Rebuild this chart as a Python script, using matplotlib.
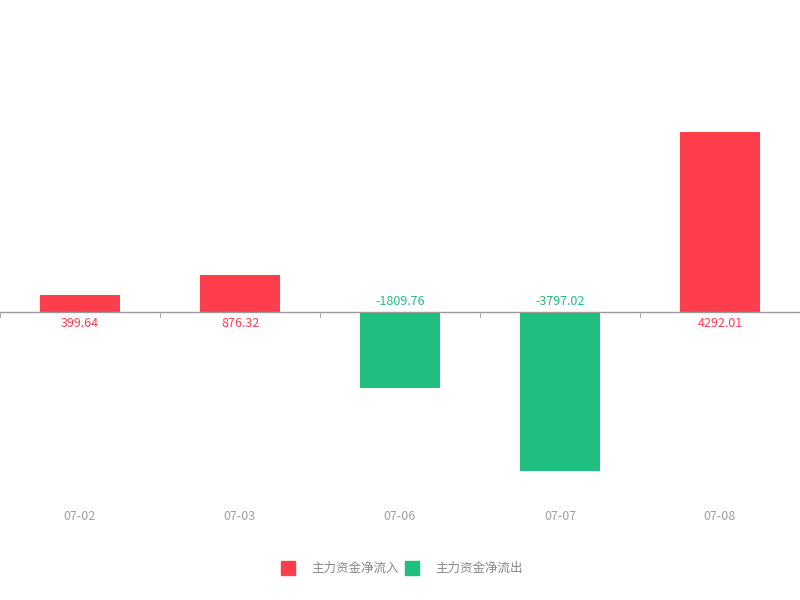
import numpy as np
import matplotlib.pyplot as plt
from matplotlib.patches import Rectangle

plt.rcParams['font.family'] = ['Noto Sans CJK SC', 'DejaVu Sans']

dates = ['07-02', '07-03', '07-06', '07-07', '07-08']
values = [399.64, 876.32, -1809.76, -3797.02, 4292.01]
legend_labels = ['主力资金净流入', '主力资金净流出']

red = '#FF3E4D'
green = '#20BE7F'

fig = plt.figure(figsize=(8, 6), dpi=100)
ax = fig.add_axes([0, 0, 1, 1])

# zero line sits at 312 px from the top, about 0.042 px per unit
scale = 0.042
ax.set_xlim(-0.5, len(dates) - 0.5)
ax.set_ylim(-(600 - 312) / scale, 312 / scale)
ax.axis('off')

x = np.arange(len(dates))
colors = [red if v >= 0 else green for v in values]
ax.bar(x, values, width=0.5, color=colors, zorder=2)

ax.axhline(0, color='#999999', lw=1, zorder=3)
tick_len = 5 / scale
for b in np.arange(len(dates) + 1) - 0.5:
    ax.plot([b, b], [0, -tick_len], color='#aaaaaa', lw=0.8, zorder=3)

for xi, v, c in zip(x, values, colors):
    off = -11 / scale if v >= 0 else 11 / scale
    ax.text(xi, off, f'{v:.2f}', ha='center', va='center', color=c, fontsize=9)

for xi, d in zip(x, dates):
    ax.text(xi, -(517 - 312) / scale, d, ha='center', va='center',
            color='#a0a0a0', fontsize=9)

# legend
fig.patches.append(Rectangle((281 / 800, 1 - 575 / 600), 14 / 800, 14 / 600,
                             transform=fig.transFigure, color=red))
fig.text(311 / 800, 1 - 568 / 600, legend_labels[0], ha='left', va='center',
         color='#888888', fontsize=9)
fig.patches.append(Rectangle((405 / 800, 1 - 575 / 600), 14 / 800, 14 / 600,
                             transform=fig.transFigure, color=green))
fig.text(435 / 800, 1 - 568 / 600, legend_labels[1], ha='left', va='center',
         color='#888888', fontsize=9)

fig.savefig('out.png', dpi=100)
